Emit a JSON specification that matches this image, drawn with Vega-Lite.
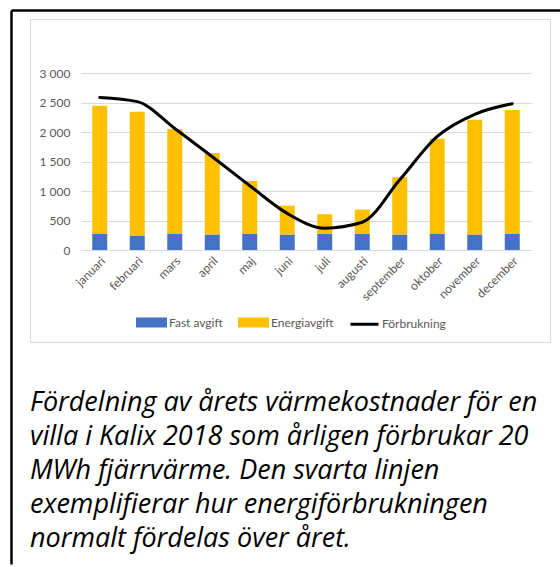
{
  "$schema": "https://vega.github.io/schema/vega-lite/v6.json",
  "background": "white",
  "padding": {"left": 7, "top": 9, "right": 0, "bottom": 0},
  "autosize": {"type": "pad"},
  "bounds": "flush",
  "spacing": 45,
  "config": {
    "view": {"stroke": null},
    "font": "Lato",
    "axis": {"labelFont": "Lato", "labelColor": "#595959", "labelFontSize": 12},
    "legend": {"labelFont": "Lato", "labelColor": "#595959", "labelFontSize": 12}
  },
  "datasets": {
    "kostnad": [
      {"month": "januari", "serie": "Fast avgift", "value": 272},
      {"month": "januari", "serie": "Energiavgift", "value": 2173},
      {"month": "februari", "serie": "Fast avgift", "value": 246},
      {"month": "februari", "serie": "Energiavgift", "value": 2097},
      {"month": "mars", "serie": "Fast avgift", "value": 272},
      {"month": "mars", "serie": "Energiavgift", "value": 1777},
      {"month": "april", "serie": "Fast avgift", "value": 263},
      {"month": "april", "serie": "Energiavgift", "value": 1379},
      {"month": "maj", "serie": "Fast avgift", "value": 272},
      {"month": "maj", "serie": "Energiavgift", "value": 900},
      {"month": "juni", "serie": "Fast avgift", "value": 263},
      {"month": "juni", "serie": "Energiavgift", "value": 489},
      {"month": "juli", "serie": "Fast avgift", "value": 272},
      {"month": "juli", "serie": "Energiavgift", "value": 334},
      {"month": "augusti", "serie": "Fast avgift", "value": 272},
      {"month": "augusti", "serie": "Energiavgift", "value": 413},
      {"month": "september", "serie": "Fast avgift", "value": 263},
      {"month": "september", "serie": "Energiavgift", "value": 971},
      {"month": "oktober", "serie": "Fast avgift", "value": 272},
      {"month": "oktober", "serie": "Energiavgift", "value": 1613},
      {"month": "november", "serie": "Fast avgift", "value": 263},
      {"month": "november", "serie": "Energiavgift", "value": 1944},
      {"month": "december", "serie": "Fast avgift", "value": 272},
      {"month": "december", "serie": "Energiavgift", "value": 2100}
    ],
    "forbrukning": [
      {"month": "januari", "value": 2586},
      {"month": "februari", "value": 2515},
      {"month": "mars", "value": 2060},
      {"month": "april", "value": 1580},
      {"month": "maj", "value": 1090},
      {"month": "juni", "value": 620},
      {"month": "juli", "value": 370},
      {"month": "augusti", "value": 470},
      {"month": "september", "value": 1190},
      {"month": "oktober", "value": 1925},
      {"month": "november", "value": 2300},
      {"month": "december", "value": 2480}
    ],
    "ram": [{"a": 0, "b": 0}]
  },
  "vconcat": [
    {
      "width": 520,
      "height": 323,
      "view": {"stroke": "#d9d9d9", "strokeWidth": 1},
      "layer": [
        {
          "encoding": {
            "x": {
              "field": "month",
              "type": "nominal",
              "sort": null,
              "scale": {"domain": ["januari","februari","mars","april","maj","juni","juli","augusti","september","oktober","november","december"], "range": [51, 501], "paddingInner": 0.6, "paddingOuter": 0.3},
              "axis": {"orient": "bottom", "offset": -92, "title": null, "labelAngle": -45, "ticks": false, "labelPadding": 5, "domainColor": "#d9d9d9", "domainWidth": 1, "grid": false}
            },
            "y": {
              "field": "value",
              "type": "quantitative",
              "scale": {"domain": [0, 3000], "range": [231, 54], "nice": false},
              "axis": {"orient": "left", "offset": -51, "title": null, "values": [0,500,1000,1500,2000,2500,3000], "labelExpr": "replace(format(datum.value, ','), ',', ' ')", "domain": false, "ticks": false, "labelPadding": 11, "grid": true, "gridColor": "#d9d9d9", "gridWidth": 1}
            }
          },
          "layer": [
            {
              "data": {"name": "kostnad"},
              "mark": {"type": "bar"},
              "encoding": {
                "y": {"field": "value", "type": "quantitative", "stack": "zero"},
                "order": {"field": "serie", "sort": "descending"},
                "color": {
                  "field": "serie",
                  "type": "nominal",
                  "scale": {"domain": ["Fast avgift", "Energiavgift", "Förbrukning"], "range": ["#4472c4", "#ffc000", "#000000"]},
                  "legend": {
                    "orient": "none",
                    "legendX": 106,
                    "legendY": 288,
                    "direction": "horizontal",
                    "title": null,
                    "symbolSize": 784,
                    "columnPadding": 10,
                    "labelOffset": 2,
                    "encode": {
                      "symbols": {
                        "update": {
                          "shape": {"signal": "datum.value === 'Förbrukning' ? 'stroke' : 'M-1,-0.25H1V0.25H-1Z'"},
                          "fill": {"signal": "datum.value === 'Förbrukning' ? 'transparent' : scale('color', datum.value)"},
                          "stroke": {"signal": "datum.value === 'Förbrukning' ? '#000000' : 'transparent'"},
                          "strokeWidth": {"value": 3},
                          "opacity": {"value": 1}
                        }
                      }
                    }
                  }
                }
              }
            },
            {
              "data": {"name": "forbrukning"},
              "mark": {"type": "line", "interpolate": "monotone", "strokeWidth": 3, "strokeCap": "round"},
              "encoding": {
                "color": {"datum": "Förbrukning"}
              }
            }
          ]
        },
        {
          "data": {"name": "ram"},
          "mark": {"type": "point", "opacity": 0},
          "encoding": {
            "x": {"field": "a", "type": "quantitative", "scale": {"domain": [0, 1], "range": [-19, 531]}, "axis": {"orient": "top", "offset": 9, "domain": true, "domainColor": "#000000", "domainWidth": 2.5, "ticks": false, "labels": false, "grid": false, "title": null}},
            "y": {"field": "b", "type": "quantitative", "scale": {"domain": [0, 1], "range": [545, -9]}, "axis": {"orient": "left", "offset": 19, "domain": true, "domainColor": "#000000", "domainWidth": 2.5, "ticks": false, "labels": false, "grid": false, "title": null}}
          }
        }
      ],
      "resolve": {"scale": {"x": "independent", "y": "independent"}, "axis": {"x": "independent", "y": "independent"}}
    },
    {
      "width": 520,
      "height": 1,
      "data": {"name": "ram"},
      "mark": {"type": "point", "opacity": 0},
      "title": {
        "text": ["Fördelning av årets värmekostnader för en", "villa i Kalix 2018 som årligen förbrukar 20", "MWh fjärrvärme. Den svarta linjen", "exemplifierar hur energiförbrukningen", "normalt fördelas över året."],
        "orient": "bottom",
        "anchor": "start",
        "frame": "group",
        "offset": 0,
        "font": "Open Sans",
        "fontStyle": "italic",
        "fontWeight": "normal",
        "fontSize": 27,
        "lineHeight": 34,
        "color": "#000000"
      }
    }
  ]
}
